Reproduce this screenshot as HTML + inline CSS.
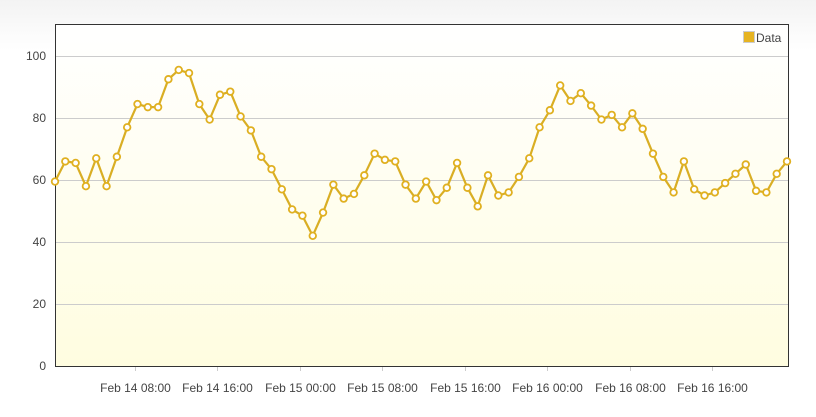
<!DOCTYPE html>
<html><head><meta charset="utf-8"><style>
body{margin:0;background:#fff;}
svg{display:block;font-family:"Liberation Sans",sans-serif;}
</style></head><body>
<svg width="816" height="417" xmlns="http://www.w3.org/2000/svg">
<defs>
<linearGradient id="pg" x1="0" y1="0" x2="0" y2="1"><stop offset="0" stop-color="#f3f3f3"/><stop offset="0.12" stop-color="#ffffff"/></linearGradient>
<linearGradient id="bg" x1="0" y1="0" x2="0" y2="1"><stop offset="0" stop-color="#ffffff"/><stop offset="1" stop-color="#fffde0"/></linearGradient>
</defs>
<rect width="816" height="417" fill="url(#pg)"/>
<rect x="55" y="24" width="733" height="342" fill="url(#bg)"/>
<g id="grid"></g>
<g id="axes"></g>
<path id="line" fill="none" stroke="#d9ae24" stroke-width="2.2" stroke-linejoin="round"/>
<g id="pts"></g>
<g>
<rect x="743.5" y="31.5" width="11" height="11" fill="#e6b422" stroke="#ccc"/>
<text x="756" y="42" font-size="12" fill="#444">Data</text>
</g>
</svg>
<script>
const values=[59.5,66,65.5,58,67,58,67.5,77,84.5,83.5,83.5,92.5,95.5,94.5,84.5,79.5,87.5,88.5,80.5,76,67.5,63.5,57,50.5,48.5,42,49.5,58.5,54,55.5,61.5,68.5,66.5,66,58.5,54,59.5,53.5,57.5,65.5,57.5,51.5,61.5,55,56,61,67,77,82.5,90.5,85.5,88,84,79.5,81,77,81.5,76.5,68.5,61,56,66,57,55,56,59,62,65,56.5,56,62,66];
const yTicks=[0,20,40,60,80,100];
const xTickHours=[8,16,24,32,40,48,56,64];
const xTickLabels=["Feb 14 08:00","Feb 14 16:00","Feb 15 00:00","Feb 15 08:00","Feb 15 16:00","Feb 16 00:00","Feb 16 08:00","Feb 16 16:00"];
const t0=0.27;
const NS="http://www.w3.org/2000/svg";
const X0=55,X1=787,Y0=366;
const xs=h=>X0+(h-t0)/(values.length-1)*(X1-X0);
const ys=v=>Y0-v*3.1;
function mk(tag,at,parent){const e=document.createElementNS(NS,tag);for(const k in at)e.setAttribute(k,at[k]);document.getElementById(parent)?document.getElementById(parent).appendChild(e):document.querySelector('svg').appendChild(e);return e;}
yTicks.forEach(v=>{
 if(v>0){const l=mk('line',{x1:55,x2:788,y1:ys(v)+0.5,y2:ys(v)+0.5,stroke:'#ccc'},'grid');
 
 }
 const t=mk('text',{x:46,y:ys(v)+4,'text-anchor':'end','font-size':12,fill:'#444'},'axes');t.textContent=v;
 
 
});
xTickHours.forEach((h,i)=>{
 const x=Math.round(xs(h))+0.5;
 const tk=mk('line',{x1:x,x2:x,y1:367,y2:371,stroke:'#ccc'},'axes');
 
 
 const t=mk('text',{x:x,y:392,'text-anchor':'middle','font-size':12,fill:'#444'},'axes');t.textContent=xTickLabels[i];
 
 
});
const fr=mk('path',{d:'M55.5,366.5 V24.5 H788.5 V366.5 Z',fill:'none',stroke:'#333','stroke-width':1},'axes');


let d='';
values.forEach((v,i)=>{const x=xs(t0+i),y=ys(v);d+=(i?'L':'M')+x.toFixed(1)+','+y.toFixed(1);
 const c=mk('circle',{cx:x,cy:y,r:3.3,fill:'#fff',stroke:'#e0b020','stroke-width':1.8},'pts');
 
 
});
document.getElementById('line').setAttribute('d',d);
</script>
</body></html>
